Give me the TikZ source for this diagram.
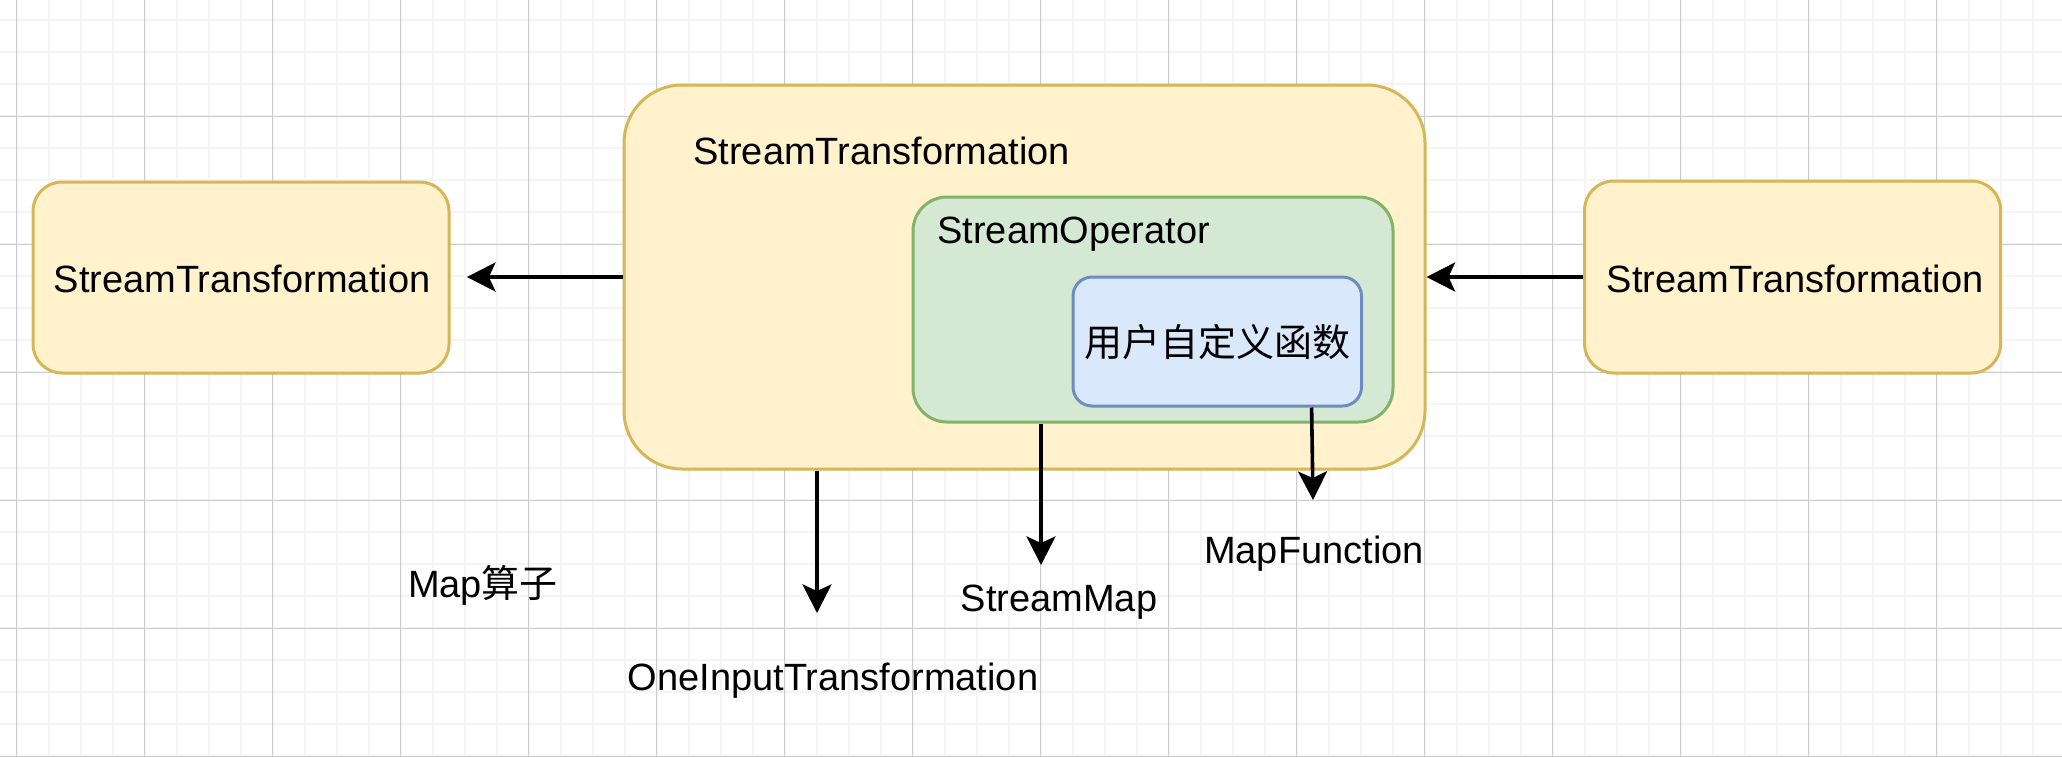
\documentclass[tikz,border=0pt]{standalone}
\usepackage{fontspec}
\setmainfont{Liberation Sans}
\newfontfamily\cjk{Noto Sans CJK SC}
\usetikzlibrary{arrows.meta}
\definecolor{yfill}{HTML}{FFF2CC}
\definecolor{ydraw}{HTML}{D6B656}
\definecolor{gfill}{HTML}{D5E8D4}
\definecolor{gdraw}{HTML}{82B366}
\definecolor{bfill}{HTML}{DAE8FC}
\definecolor{bdraw}{HTML}{6C8EBF}
\definecolor{gridminor}{HTML}{F4F4F4}
\definecolor{gridmajor}{HTML}{CCCCCC}
\begin{document}
\begin{tikzpicture}[x=0.5pt,y=-0.5pt,
  box/.style={draw, line width=1.5pt, inner sep=0pt, anchor=center},
  ybox/.style={box, draw=ydraw, fill=yfill},
  gbox/.style={box, draw=gdraw, fill=gfill},
  bbox/.style={box, draw=bdraw, fill=bfill},
  lbl/.style={inner sep=0pt, font=\fontsize{19pt}{22pt}\selectfont, text=black},
  arr/.style={line width=1.8pt, -{Stealth[length=14.3pt,width=14.5pt,inset=3.3pt]}},
  minorline/.style={draw=gridminor, line width=1pt},
  majorline/.style={draw=gridmajor, line width=0.55pt}
]
\useasboundingbox (0,0) rectangle (2062,756);
\fill[white] (0,0) rectangle (2062,756);
% grid
\foreach \i in {0,...,64} \draw[minorline] ({16.5+32*\i},0) -- ({16.5+32*\i},756);
\foreach \j in {0,...,24} \draw[minorline] (0,{-11.7+32*\j}) -- (2062,{-11.7+32*\j});
\foreach \i in {0,...,16} \draw[majorline] ({16.5+128*\i},0) -- ({16.5+128*\i},756);
\foreach \j in {0,...,6} \draw[majorline] (0,{-11.7+128*\j}) -- (2062,{-11.7+128*\j});
% boxes
\node[ybox, minimum width=208pt, minimum height=95.5pt, rounded corners=14.5pt] (L) at (241,277.5) {};
\node[ybox, minimum width=400.5pt, minimum height=192pt, rounded corners=29pt] (B) at (1024.5,277) {};
\node[gbox, minimum width=240pt, minimum height=112.5pt, rounded corners=17pt] (G) at (1153,309.5) {};
\node[bbox, minimum width=144.25pt, minimum height=64.5pt, rounded corners=9.5pt] (U) at (1217.25,341.5) {};
\node[ybox, minimum width=208pt, minimum height=96pt, rounded corners=14.5pt] (R) at (1792.6,277) {};
% labels
\node[lbl, anchor=base] (Lt) at (242,292) {StreamTransformation};
\node[lbl, anchor=base] (Rt) at (1795,292) {StreamTransformation};
\node[lbl, anchor=base west] (Bt) at (693,164) {StreamTransformation};
\node[lbl, anchor=base west] (Gt) at (937,243) {StreamOperator};
\node[lbl] (Ut) at (1217,342) {\cjk 用户自定义函数};
\node[lbl, anchor=base] (m1) at (483,597) {Map{\cjk 算子}};
\node[lbl, anchor=base] (m2) at (833,690.7) {OneInputTransformation};
\node[lbl, anchor=base] (m3) at (1059,611.7) {StreamMap};
\node[lbl, anchor=base] (m4) at (1314,563) {MapFunction};
% connectors
\draw[arr, shorten >=8.2pt] (B.west) -- (B.west -| L.east);
\draw[arr] (R.west) -- (B.east);
\coordinate (e1) at (817,613);
\draw[arr] (B.south -| e1) -- (e1);
\coordinate (e2) at (1041,565);
\draw[arr] (G.south -| e2) -- (e2);
\coordinate (s3) at (1311.6,0);
\coordinate (e3) at (1313,500);
\draw[arr] (U.south -| s3) -- (e3);
\end{tikzpicture}
\end{document}
